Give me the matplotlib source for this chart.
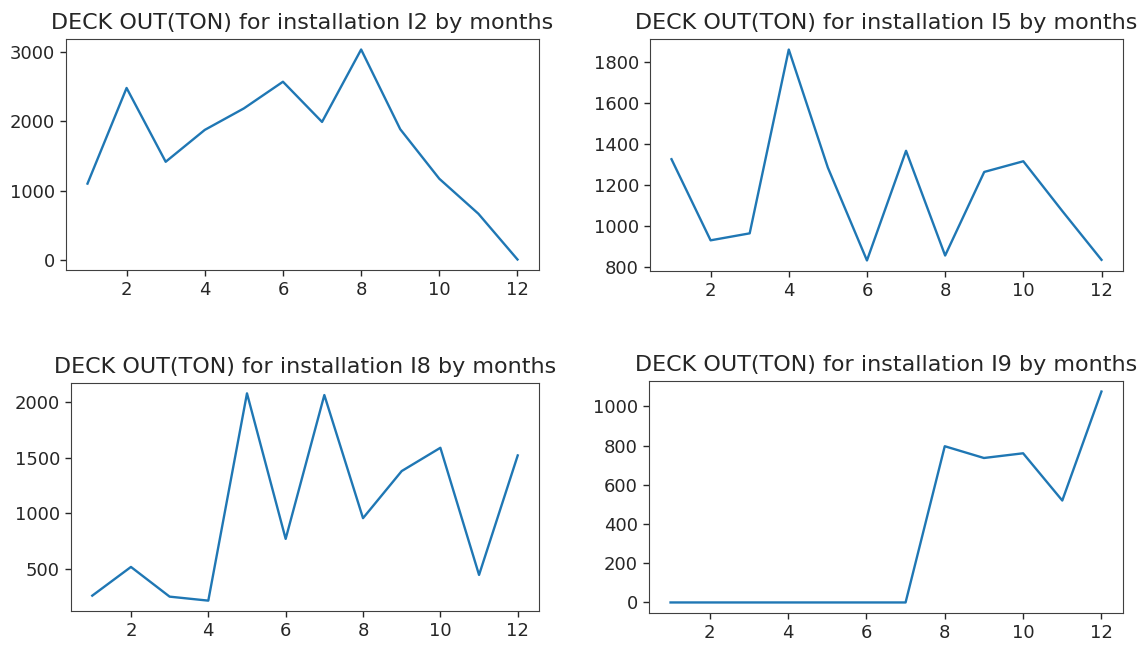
import matplotlib
matplotlib.use("Agg")
import matplotlib.pyplot as plt
from matplotlib.ticker import MultipleLocator

months = list(range(1, 13))

deck_out_i2 = [1100, 2480, 1415, 1875, 2185, 2570, 1990, 3035, 1885, 1170, 665, 5]
deck_out_i5 = [1326, 931, 965, 1860, 1285, 833, 1367, 857, 1264, 1316, 1073, 836]
deck_out_i8 = [256, 515, 247, 211, 2081, 768, 2066, 955, 1380, 1590, 443, 1521]
deck_out_i9 = [0, 0, 0, 0, 0, 0, 0, 797, 737, 761, 520, 1076]

installations = ["I2", "I5", "I8", "I9"]
series = [deck_out_i2, deck_out_i5, deck_out_i8, deck_out_i9]
y_steps = [1000, 200, 500, 200]

W, H = 1146, 646
fig = plt.figure(figsize=(W / 100, H / 100), dpi=100)

# axes boxes in pixels: left, top, right, bottom
boxes = [
    (66, 39, 539, 270),
    (650, 39, 1123, 271),
    (71, 383, 539, 611),
    (649, 381, 1123, 613),
]

for name, values, step, (l, t, r, b) in zip(installations, series, y_steps, boxes):
    ax = fig.add_axes([l / W, 1 - b / H, (r - l) / W, (b - t) / H])
    ax.plot(months, values, color="#1f77b4", linewidth=1.7)
    ax.set_title(f"DECK OUT(TON) for installation {name} by months",
                 fontsize=16, color="#262626", pad=7)
    ax.xaxis.set_major_locator(MultipleLocator(2))
    ax.yaxis.set_major_locator(MultipleLocator(step))
    ax.tick_params(labelsize=13, colors="#262626", length=4.5, width=1)
    for s in ax.spines.values():
        s.set_color("#404040")

fig.savefig("out.png", dpi=100)
